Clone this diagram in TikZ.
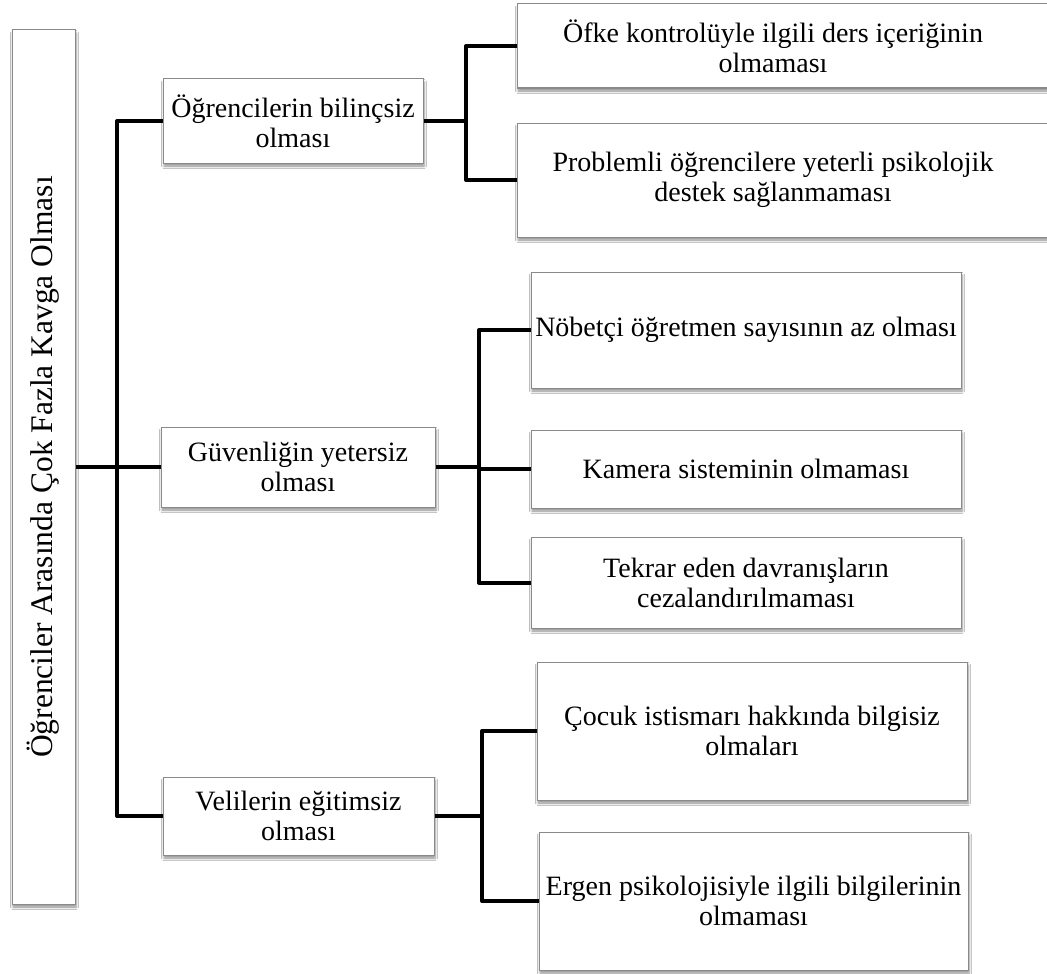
\documentclass[tikz,border=0pt]{standalone}
\usepackage{fontspec}
\setmainfont{Liberation Serif}
\usetikzlibrary{shadows.blur}
\definecolor{boxgray}{HTML}{8A8A8A}

\begin{document}
\begin{tikzpicture}[x=1pt,y=-1pt,
  box/.style={draw=boxgray, line width=1pt, fill=white, inner sep=0pt,
    align=center, font=\fontsize{28}{30}\selectfont,
    blur shadow={shadow xshift=1pt, shadow yshift=-3pt,
      shadow blur radius=2.5pt, shadow blur steps=6, shadow opacity=45}},
  label/.style={inner sep=0pt, align=center, font=\fontsize{28}{30}\selectfont},
  link/.style={line width=4pt, line join=round, line cap=butt}]

\fill[white] (0,0) rectangle (1047,974);
\useasboundingbox (0,0) rectangle (1047,974);

% root problem
\node[box, minimum width=63pt, minimum height=874pt] (root) at (43.5,467)
  {\rotatebox{90}{\fontsize{31.5}{34}\selectfont Öğrenciler Arasında Çok Fazla Kavga Olması}};

% main causes
\node[box, minimum width=260pt, minimum height=84pt] (b1) at (293,121)
  {Öğrencilerin bilinçsiz\\olması};
\node[box, minimum width=274pt, minimum height=80pt] (b2) at (298,467)
  {Güvenliğin yetersiz\\olması};
\node[box, minimum width=271pt, minimum height=78pt] (b3) at (298.5,816)
  {Velilerin eğitimsiz\\olması};

% sub causes
\node[box, minimum width=543pt, minimum height=84pt] (l1) at (788.5,46) {};
\node[label] (t1) at (773,46) {Öfke kontrolüyle ilgili ders içeriğinin\\olmaması};
\node[box, minimum width=543pt, minimum height=114pt] (l2) at (788.5,180) {};
\node[label] (t2) at (773,180) {Problemli öğrencilere yeterli psikolojik\\destek sağlanmaması};

\node[box, minimum width=430pt, minimum height=116pt] (l3) at (746,330)
  {Nöbetçi öğretmen sayısının az olması};
\node[box, minimum width=430pt, minimum height=78pt] (l4) at (746,469)
  {Kamera sisteminin olmaması};
\node[box, minimum width=430pt, minimum height=91pt] (l5) at (746,582.5)
  {Tekrar eden davranışların\\cezalandırılmaması};

\node[box, minimum width=430pt, minimum height=138pt] (l6) at (752,731)
  {Çocuk istismarı hakkında bilgisiz\\olmaları};
\node[box, minimum width=429pt, minimum height=138pt] (l7) at (753.5,901)
  {Ergen psikolojisiyle ilgili bilgilerinin\\olmaması};

% junction points
\coordinate (trunk) at (117,467);
\coordinate (j1) at (466,121);
\coordinate (j2) at (479,467);
\coordinate (j3) at (482,816);

% connectors
\draw[link] (root.east) -- (b2.west);
\draw[link] (b1.west) -| (trunk |- b3.west) -- (b3.west);

\draw[link] (b1.east) -- (j1);
\draw[link] (l1.west) -| (j1 |- l2.west) -- (l2.west);

\draw[link] (b2.east) -- (j2);
\draw[link] (l3.west) -| (j2 |- l5.west) -- (l5.west);
\draw[link] (j2 |- l4.west) -- (l4.west);

\draw[link] (b3.east) -- (j3);
\draw[link] (l6.west) -| (j3 |- l7.west) -- (l7.west);
\end{tikzpicture}
\end{document}
